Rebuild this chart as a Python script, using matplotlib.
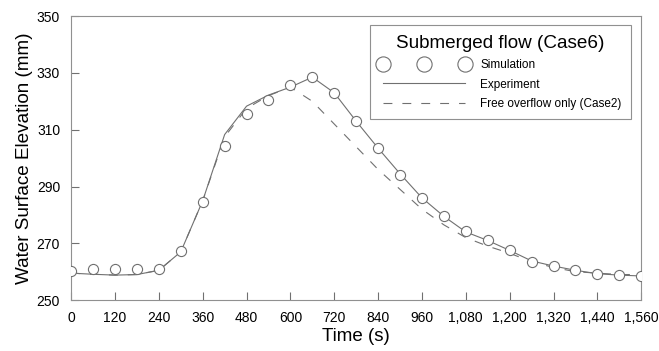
import numpy as np
import matplotlib
matplotlib.use('Agg')
import matplotlib.pyplot as plt

plt.rcParams['font.family'] = ['Liberation Sans', 'DejaVu Sans']

# --- Data ---
time_s = [0, 60, 120, 180, 240, 300, 360, 420, 480, 540, 600, 660, 720,
          780, 840, 900, 960, 1020, 1080, 1140, 1200, 1260, 1320, 1380,
          1440, 1500, 1560]

simulation = [260.1, 260.9, 261.0, 261.0, 261.0, 267.4, 284.4, 304.3, 315.5,
              320.5, 325.7, 328.6, 322.8, 313.1, 303.4, 294.2, 285.8, 279.6,
              274.3, 271.1, 267.6, 263.5, 261.9, 260.6, 259.2, 258.7, 258.5]

experiment = [259.5, 259.1, 258.8, 259.0, 260.5, 267.0, 285.0, 308.3, 318.3,
              322.2, 325.0, 328.5, 323.0, 313.0, 303.5, 294.5, 286.0, 279.5,
              274.0, 271.0, 267.5, 263.8, 262.0, 260.5, 259.3, 258.8, 258.5]

case2 = [259.5, 259.1, 258.8, 259.0, 260.5, 267.0, 285.0, 307.5, 317.5,
         322.0, 325.0, 320.0, 312.0, 304.0, 296.0, 289.0, 282.0, 276.5,
         272.0, 269.0, 266.5, 263.5, 261.5, 260.0, 259.5, 259.0, 259.0]

xticks = list(range(0, 1561, 120))
yticks = [250, 270, 290, 310, 330, 350]

line_col = '#707070'

fig = plt.figure(figsize=(6.59, 3.51), dpi=100)
ax = fig.add_axes([0.108, 0.145, 0.865, 0.809])

ax.plot(time_s, experiment, color=line_col, lw=0.8, label='Experiment')
ax.plot(time_s, case2, color=line_col, lw=0.8, dashes=(8, 9),
        label='Free overflow only (Case2)')
ax.plot(time_s, simulation, linestyle='none', marker='o', ms=7.3,
        mfc='white', mec=line_col, mew=0.8, label='Simulation', zorder=3)

ax.set_xlim(0, 1560)
ax.set_ylim(250, 350)
ax.set_xticks(xticks)
ax.set_xticklabels([f'{t:,}' for t in xticks])
ax.set_yticks(yticks)
ax.tick_params(direction='in', length=5.5, width=0.8, color=line_col,
               labelsize=10, pad=8)
for s in ax.spines.values():
    s.set_color('#909090')
    s.set_linewidth(0.8)

ax.set_xlabel('Time (s)', fontsize=13.5, labelpad=2)
ax.set_ylabel('Water Surface Elevation (mm)', fontsize=13.6, labelpad=3)

h, l = ax.get_legend_handles_labels()
order = [2, 0, 1]
leg = ax.legend([h[i] for i in order], [l[i] for i in order],
                loc='upper right', bbox_to_anchor=(0.993, 0.988),
                title='Submerged flow (Case6)', title_fontsize=13.6,
                fontsize=8.5, numpoints=3, markerscale=1.5,
                handlelength=7.6, fancybox=False, framealpha=1,
                edgecolor='#909090', borderpad=0.8, labelspacing=0.62,
                handletextpad=1.0)
leg.get_frame().set_linewidth(0.8)

fig.savefig('out.png', dpi=100)
